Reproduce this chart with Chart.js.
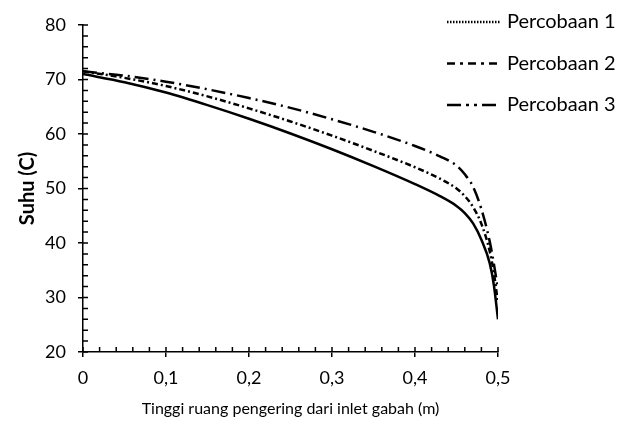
<!DOCTYPE html>
<html>
<head>
<meta charset="utf-8">
<script src="https://cdn.jsdelivr.net/npm/chart.js@4"></script>
<style>
  html, body { margin: 0; padding: 0; background: #fff; }
  #wrap { width: 625px; height: 423px; position: relative; }
</style>
</head>
<body>
<div id="wrap"><canvas id="c"></canvas></div>
<script>
// ---- data ----
const heights = [0, 0.05, 0.1, 0.15, 0.2, 0.25, 0.3, 0.35, 0.4, 0.43, 0.45, 0.46, 0.47, 0.48, 0.49, 0.495, 0.5];
const percobaan1 = [71, 69.5, 67.6, 65.3, 62.8, 60.1, 57.2, 54.1, 50.8, 48.6, 46.8, 45.5, 43.6, 40.6, 36.3, 32.3, 26];
const percobaan2 = [71.5, 70.3, 68.8, 66.9, 64.7, 62.3, 59.7, 56.9, 53.9, 51.8, 50.0, 48.6, 46.6, 43.5, 38.5, 34.5, 29];
const percobaan3 = [71.5, 70.7, 69.6, 68.2, 66.6, 64.8, 62.7, 60.4, 57.8, 55.9, 54.2, 52.6, 50.3, 46.2, 40.3, 36.2, 31.5];
const seriesNames = ['Percobaan 1', 'Percobaan 2', 'Percobaan 3'];
const xTicks = [0, 0.1, 0.2, 0.3, 0.4, 0.5];
const yTicks = [20, 30, 40, 50, 60, 70, 80];

const FONT = 'Lato, "Open Sans", sans-serif';
const plotDashes = [[], [6, 3, 2, 3], [14, 5, 2, 5]];
const legendDashes = [[1.5, 1.5], [8, 5, 3, 5], [14, 5, 3, 5, 3, 5]];

function pts(ys) { return heights.map((x, i) => ({ x: x, y: ys[i] })); }
function fmt(v) { return Math.abs(v) < 1e-9 ? '0' : v.toFixed(1).replace('.', ','); }

const minorTicks = {
  id: 'minorTicks',
  afterDraw(chart) {
    const ctx = chart.ctx;
    const xs = chart.scales.x, ys = chart.scales.y;
    ctx.save();
    ctx.strokeStyle = '#000';
    ctx.lineWidth = 1.5;
    ctx.beginPath();
    for (let k = 0; k <= 30; k++) {
      const v = 20 + k * 2;
      const py = ys.getPixelForValue(v);
      ctx.moveTo(xs.left, py);
      ctx.lineTo(xs.left + 5, py);
    }
    for (let k = 0; k <= 25; k++) {
      const v = k * 0.02;
      const px = xs.getPixelForValue(v);
      ctx.moveTo(px, ys.bottom);
      ctx.lineTo(px, ys.bottom - 5);
    }
    ctx.stroke();
    ctx.restore();
  }
};

const customLegend = {
  id: 'customLegend',
  afterDraw(chart) {
    const ctx = chart.ctx;
    ctx.save();
    ctx.font = '20px ' + FONT;
    ctx.fillStyle = '#000';
    ctx.textBaseline = 'middle';
    ctx.strokeStyle = '#000';
    seriesNames.forEach((name, i) => {
      const y = 22 + i * 41.5;
      ctx.lineWidth = 2.5;
      ctx.setLineDash(legendDashes[i]);
      ctx.beginPath();
      ctx.moveTo(447, y);
      ctx.lineTo(500, y);
      ctx.stroke();
      ctx.setLineDash([]);
      ctx.fillText(name, 507, y);
    });
    ctx.restore();
  }
};

new Chart(document.getElementById('c'), {
  type: 'line',
  data: {
    datasets: [percobaan1, percobaan2, percobaan3].map((d, i) => ({
      label: seriesNames[i],
      data: pts(d),
      borderColor: '#000',
      borderWidth: 2.5,
      borderDash: plotDashes[i],
      pointRadius: 0,
      fill: false,
      cubicInterpolationMode: 'monotone'
    }))
  },
  options: {
    responsive: true,
    maintainAspectRatio: false,
    animation: false,
    layout: { padding: { left: 0, right: 127, top: 25, bottom: 0 } },
    plugins: { legend: { display: false }, tooltip: { enabled: false } },
    scales: {
      x: {
        type: 'linear',
        min: 0, max: 0.5,
        afterBuildTicks(s) { s.ticks = xTicks.map(v => ({ value: v })); },
        afterFit(s) { s.height = 71; },
        ticks: { callback: fmt, color: '#000', font: { family: FONT, size: 18 }, padding: 10, maxRotation: 0 },
        grid: { drawOnChartArea: false, drawTicks: true, tickLength: 5, color: '#000', lineWidth: 1.5 },
        border: { display: true, color: '#000', width: 1.5 },
        title: { display: true, text: 'Tinggi ruang pengering dari inlet gabah (m)', color: '#000', font: { family: FONT, size: 16 }, padding: { top: 0, bottom: 5 } }
      },
      y: {
        min: 20, max: 80,
        afterBuildTicks(s) { s.ticks = yTicks.map(v => ({ value: v })); },
        afterFit(s) { s.width = 83; },
        ticks: { color: '#000', font: { family: FONT, size: 18 }, padding: 12 },
        grid: { drawOnChartArea: false, drawTicks: true, tickLength: 5, color: '#000', lineWidth: 1.5 },
        border: { display: true, color: '#000', width: 1.5 },
        title: { display: true, text: 'Suhu (C)', color: '#000', font: { family: FONT, size: 20, weight: 'bold' }, padding: { top: 16, bottom: 0 } }
      }
    }
  },
  plugins: [minorTicks, customLegend]
});
</script>
</body>
</html>
